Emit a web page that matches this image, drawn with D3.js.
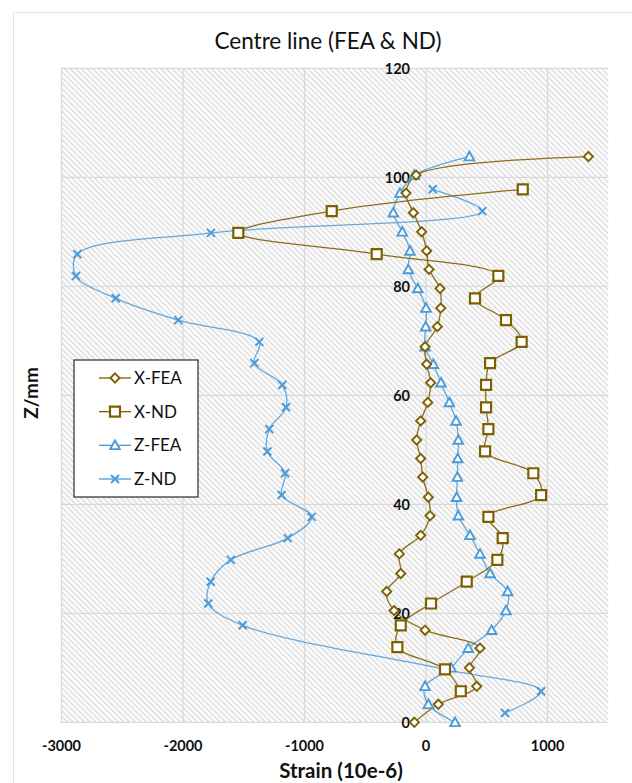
<!DOCTYPE html>
<html>
<head>
<meta charset="utf-8">
<script src="https://cdn.jsdelivr.net/npm/d3@7/dist/d3.min.js"></script>
<style>
  html, body { margin: 0; padding: 0; background: #fff; }
  svg { display: block; font-family: Lato, "Open Sans", sans-serif; }
</style>
</head>
<body>
<svg id="chart" width="632" height="783"></svg>
<script>
// Heights along the centre line (mm)
const feaHeights = [0, 3.3, 6.6, 10.0, 13.6, 16.9, 20.5, 24.0, 27.3, 30.9, 34.3, 37.9, 41.3, 45.0, 48.4, 51.8,
  55.3, 58.7, 62.3, 65.7, 68.9, 72.6, 76.0, 79.6, 83.1, 86.5, 90.0, 93.5, 97.1, 100.4, 103.8];
const xndHeights = [5.7, 9.7, 13.8, 17.8, 21.8, 25.8, 29.8, 33.8, 37.7, 41.7, 45.7, 49.7, 53.8, 57.8, 61.9,
  65.9, 69.8, 73.8, 77.8, 81.9, 85.9, 89.8, 93.8, 97.8];
const zndHeights = [1.7, 5.7, 9.7, 17.8, 21.8, 25.8, 29.8, 33.8, 37.7, 41.7, 45.7, 49.7, 53.8, 57.8, 61.9,
  65.9, 69.8, 73.8, 77.8, 81.9, 85.9, 89.8, 93.8, 97.8];

// Strain values (10e-6)
const xFEA = [-96, 101, 417, 357, 444, -8, -263, -324, -208, -220, -44, 33, 19, -27, -44, -77,
  -44, 14, 38, 5, -8, 93, 121, 115, 25, 5, -36, -104, -165, -82, 1336];
const zFEA = [239, 19, -8, 206, 348, 540, 658, 672, 527, 444, 362, 266, 252, 258, 261, 266,
  247, 192, 123, 60, -8, -3, 0, -68, -146, -132, -195, -269, -214, -96, 357];
const xND = [286, 156, -236, -208, 41, 335, 587, 631, 513, 947, 883, 486, 513, 494, 494,
  527, 787, 658, 403, 595, -406, -1545, -776, 796];
const zND = [650, 947, 156, -1509, -1792, -1772, -1607, -1138, -941, -1188, -1160, -1306, -1290, -1152, -1183,
  -1413, -1372, -2039, -2554, -2881, -2870, -1770, 463, 55];

const seriesNames = ["X-FEA", "X-ND", "Z-FEA", "Z-ND"];
const xTicks = [-3000, -2000, -1000, 0, 1000];
const yTicks = [0, 20, 40, 60, 80, 100, 120];

const gold = "#7F6000";
const blue = "#4A9BDA";

const series = [
  { name: seriesNames[0], values: xFEA, heights: feaHeights, color: gold, marker: "diamond", width: 1.3 },
  { name: seriesNames[1], values: xND, heights: xndHeights, color: gold, marker: "square", width: 1.3 },
  { name: seriesNames[2], values: zFEA, heights: feaHeights, color: blue, marker: "triangle", width: 1.3 },
  { name: seriesNames[3], values: zND, heights: zndHeights, color: blue, marker: "cross", width: 1.3 }
];

const svg = d3.select("#chart");

const x = d3.scaleLinear().domain([-3000, 1500]).range([61.5, 608.3]);
const y = d3.scaleLinear().domain([0, 120]).range([722.3, 68.3]);

// faint chart-area border
svg.append("path")
  .attr("d", "M13.5,783 L13.5,12.5 L632,12.5")
  .attr("fill", "none").attr("stroke", "#e4e4e4").attr("stroke-width", 1);

// hatched plot background
const defs = svg.append("defs");
const pat = defs.append("pattern")
  .attr("id", "hatch").attr("patternUnits", "userSpaceOnUse")
  .attr("width", 4).attr("height", 4)
  .attr("patternTransform", "rotate(-45)");
pat.append("rect").attr("width", 4).attr("height", 4).attr("fill", "#ffffff");
pat.append("line").attr("x1", 1).attr("y1", 0).attr("x2", 1).attr("y2", 4)
  .attr("stroke", "#d6d6d6").attr("stroke-width", 1.3);

svg.append("rect")
  .attr("x", x.range()[0]).attr("y", y.range()[1])
  .attr("width", x.range()[1] - x.range()[0])
  .attr("height", y.range()[0] - y.range()[1])
  .attr("fill", "url(#hatch)");

// gridlines
const grid = svg.append("g");
grid.selectAll("line.v").data(xTicks).enter().append("line")
  .attr("x1", d => x(d)).attr("x2", d => x(d))
  .attr("y1", y(0)).attr("y2", y(120))
  .attr("stroke", "#d9d9d9").attr("stroke-width", 1.3);
grid.selectAll("line.h").data(yTicks).enter().append("line")
  .attr("x1", x(-3000)).attr("x2", x(1500))
  .attr("y1", d => y(d)).attr("y2", d => y(d))
  .attr("stroke", "#d9d9d9").attr("stroke-width", 1.3);

// y tick labels sit on the zero-strain line
svg.append("g").selectAll("text").data(yTicks).enter().append("text")
  .attr("x", x(0) - 16).attr("y", d => y(d)).attr("dy", "0.36em")
  .attr("text-anchor", "end").attr("font-size", 14.5).attr("font-weight", "bold")
  .attr("fill", "#111").text(d => d);

// x tick labels
svg.append("g").selectAll("text").data(xTicks).enter().append("text")
  .attr("x", d => x(d)).attr("y", 746).attr("dy", "0.36em")
  .attr("text-anchor", "middle").attr("font-size", 14.5).attr("font-weight", "bold")
  .attr("fill", "#111").text(d => d);

// titles
svg.append("text").attr("x", 328).attr("y", 49).attr("text-anchor", "middle")
  .attr("font-size", 22.5).attr("fill", "#111").text("Centre line (FEA & ND)");
svg.append("text").attr("x", 341).attr("y", 771).attr("dy", "0.36em").attr("text-anchor", "middle")
  .attr("font-size", 20.5).attr("font-weight", "bold").attr("fill", "#111").text("Strain (10e-6)");
svg.append("text").attr("transform", "translate(31,393) rotate(-90)").attr("dy", "0.36em")
  .attr("text-anchor", "middle").attr("font-size", 19).attr("font-weight", "bold")
  .attr("fill", "#111").text("Z/mm");

// marker shapes
const markerPath = {
  diamond: "M0,-4.6L4.6,0L0,4.6L-4.6,0Z",
  square: "M-5,-5H5V5H-5Z",
  triangle: "M0,-4.8L4.8,3.8H-4.8Z",
  cross: "M-4,-4L4,4M4,-4L-4,4"
};
function drawMarker(g, s) {
  const p = g.append("path").attr("d", markerPath[s.marker]).attr("stroke", s.color);
  if (s.marker === "cross") {
    p.attr("fill", "none").attr("stroke-width", 2);
  } else {
    p.attr("fill", "#fff").attr("stroke-width", s.marker === "square" ? 2.2 : 1.9);
  }
}

const line = d3.line().curve(d3.curveCatmullRom.alpha(0.5));

const plot = svg.append("g");
// draw order: Z-ND, Z-FEA, X-ND, X-FEA
[3, 2, 1, 0].forEach(i => {
  const s = series[i];
  const pts = s.values.map((v, k) => [x(v), y(s.heights[k])]);
  plot.append("path").attr("d", line(pts)).attr("fill", "none")
    .attr("stroke", s.color).attr("stroke-width", s.width)
    .attr("stroke-opacity", s.color === blue ? 0.85 : 0.9);
});
[3, 2, 1, 0].forEach(i => {
  const s = series[i];
  s.values.forEach((v, k) => {
    const g = plot.append("g").attr("transform", `translate(${x(v)},${y(s.heights[k])})`);
    drawMarker(g, s);
  });
});

// legend
const leg = svg.append("g");
leg.append("rect").attr("x", 74).attr("y", 360).attr("width", 124).attr("height", 137)
  .attr("fill", "#fff").attr("stroke", "#3a3a3a").attr("stroke-width", 1.3);
const legY = d3.scalePoint().domain(seriesNames).range([378, 479]);
series.forEach(s => {
  const yy = legY(s.name);
  leg.append("line").attr("x1", 99).attr("x2", 131).attr("y1", yy).attr("y2", yy)
    .attr("stroke", s.color).attr("stroke-width", 1.3);
  const g = leg.append("g").attr("transform", `translate(115,${yy})`);
  drawMarker(g, s);
  leg.append("text").attr("x", 134).attr("y", yy).attr("dy", "0.36em")
    .attr("font-size", 17).attr("fill", "#111").text(s.name);
});
</script>
</body>
</html>
